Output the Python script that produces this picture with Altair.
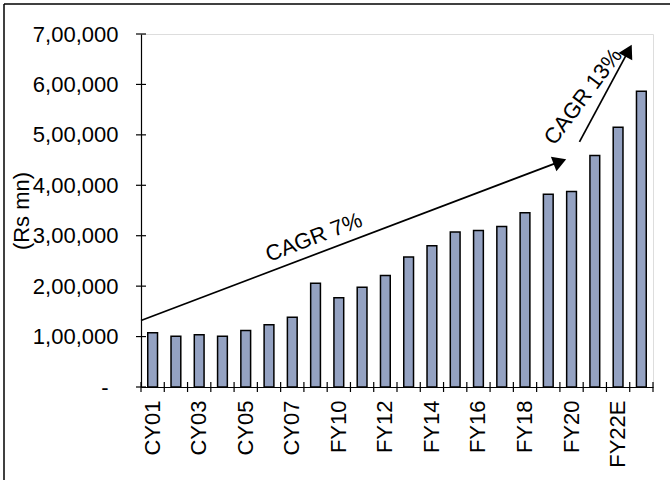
import altair as alt
import pandas as pd

# ---------------- data ----------------
categories = ["CY01", "CY02", "CY03", "CY04", "CY05", "CY06", "CY07", "FY09",
              "FY10", "FY11", "FY12", "FY13", "FY14", "FY15", "FY16", "FY17",
              "FY18", "FY19", "FY20", "FY21", "FY22E", "FY23E"]
values = [107800, 100500, 103500, 100500, 112000, 123200, 138400, 205800,
          177200, 197600, 221300, 257700, 280000, 307200, 310500, 318200,
          345600, 382300, 387900, 459200, 515000, 586700]
shown_labels = categories[::2]
y_tick_values = [0, 100000, 200000, 300000, 400000, 500000, 600000, 700000]
band_edges = list(range(len(categories) + 1))

# annotation arrows: x in category-slot units from the axis origin, y in Rs mn
arrow_id = ["a7", "a7", "a13", "a13"]
arrow_order = [0, 1, 0, 1]
arrow_x = [0.0, 18.0, 18.84, 20.95]
arrow_y = [132000, 447000, 486000, 667000]
head_x = [18.0, 20.95]
head_y = [447000, 667000]
head_angle = [69, 28]
label_text = ["CAGR 7%", "CAGR 13%"]
label_x = [7.43, 19.0]
label_y = [296800, 576000]
label_angle = [339, 307]

# ---------------- layout / style ----------------
W, H = 512, 353
FONT = "Liberation Sans"
FS = 22
BAR_FILL = "#94A2C2"
YDOM = [0, 700000]
NSLOT = len(categories)

bars_df = pd.DataFrame({"cat": categories, "val": values})
ticks_df = pd.DataFrame({"tv": y_tick_values})
edges_df = pd.DataFrame({"b": band_edges})
arrows_df = pd.DataFrame({"id": arrow_id, "o": arrow_order, "x": arrow_x, "y": arrow_y})
heads_df = pd.DataFrame({"x": head_x, "y": head_y, "ang": head_angle})
labels_df = pd.DataFrame({"t": label_text, "x": label_x, "y": label_y, "ang": label_angle})

yscale = alt.Scale(domain=YDOM, nice=False, zero=True)
qx = alt.Scale(domain=[0, NSLOT], nice=False, zero=False)

bars = alt.Chart(bars_df).mark_bar(
    fill=BAR_FILL, stroke="black", strokeWidth=1.5
).encode(
    x=alt.X("cat:N", sort=categories, title=None,
            scale=alt.Scale(paddingInner=0.58, paddingOuter=0.29),
            axis=alt.Axis(values=shown_labels, labelAngle=270, ticks=False,
                          labelPadding=13, labelFont=FONT, labelFontSize=FS,
                          labelColor="black", domainColor="black", domainWidth=1.2,
                          grid=False)),
    y=alt.Y("val:Q", scale=yscale,
            axis=alt.Axis(values=y_tick_values, ticks=False, grid=False,
                          labelExpr="datum.value == 0 ? '-' : toString(datum.value / 100000) + ',00,000'",
                          labelPadding={"condition": {"test": "datum.value == 0", "value": 33}, "value": 23},
                          labelFont=FONT, labelFontSize=FS,
                          labelColor="black", domainColor="black", domainWidth=1.2,
                          title="(Rs mn)", titleFont=FONT, titleFontSize=FS,
                          titleFontWeight="normal", titleColor="black",
                          titleAngle=270, titleX=-113, titleY=H / 2,
                          titleBaseline="alphabetic", titleAlign="center")),
)

ytick_marks = alt.Chart(ticks_df).mark_rule(color="black", strokeWidth=1.2).encode(
    y=alt.Y("tv:Q", scale=yscale, axis=None),
    x=alt.value(-5), x2=alt.value(5),
)

xtick_marks = alt.Chart(edges_df).mark_rule(color="black", strokeWidth=1.2).encode(
    x=alt.X("b:Q", scale=qx, axis=None),
    y=alt.value(H - 5), y2=alt.value(H + 5),
)

arrow_lines = alt.Chart(arrows_df).mark_line(color="black", strokeWidth=1.7).encode(
    x=alt.X("x:Q", scale=qx, axis=None),
    y=alt.Y("y:Q", scale=yscale, axis=None),
    detail="id:N",
    order="o:Q",
)

arrow_heads = alt.Chart(heads_df).mark_point(
    shape="triangle-up", filled=True, size=240, color="black", opacity=1
).encode(
    x=alt.X("x:Q", scale=qx, axis=None),
    y=alt.Y("y:Q", scale=yscale, axis=None),
    angle=alt.Angle("ang:Q", scale=None),
)

arrow_labels = alt.Chart(labels_df).mark_text(
    font=FONT, fontSize=FS, color="black", align="center", baseline="middle"
).encode(
    x=alt.X("x:Q", scale=qx, axis=None),
    y=alt.Y("y:Q", scale=yscale, axis=None),
    text="t:N",
    angle=alt.Angle("ang:Q", scale=None),
)

frame_df = pd.DataFrame({"k": [0]})
frame_left = alt.Chart(frame_df).mark_rule(color="black", strokeWidth=1.5).encode(
    x=alt.value(-137), y=alt.value(-30), y2=alt.value(480 - 34)
)
frame_top = alt.Chart(frame_df).mark_rule(color="black", strokeWidth=1.5).encode(
    y=alt.value(-30), x=alt.value(-137), x2=alt.value(670 - 141)
)

chart = alt.layer(
    bars, ytick_marks, xtick_marks, arrow_lines, arrow_heads, arrow_labels,
    frame_left, frame_top
).resolve_scale(x="independent").resolve_axis(x="independent", y="independent").properties(
    width=W, height=H,
    autosize=alt.AutoSizeParams(type="none"),
    padding={"left": 141, "top": 34, "right": 17, "bottom": 93},
).configure_view(stroke=None).configure(background="white")

chart.save("out.html", embed_options={"renderer": "svg", "actions": False})
